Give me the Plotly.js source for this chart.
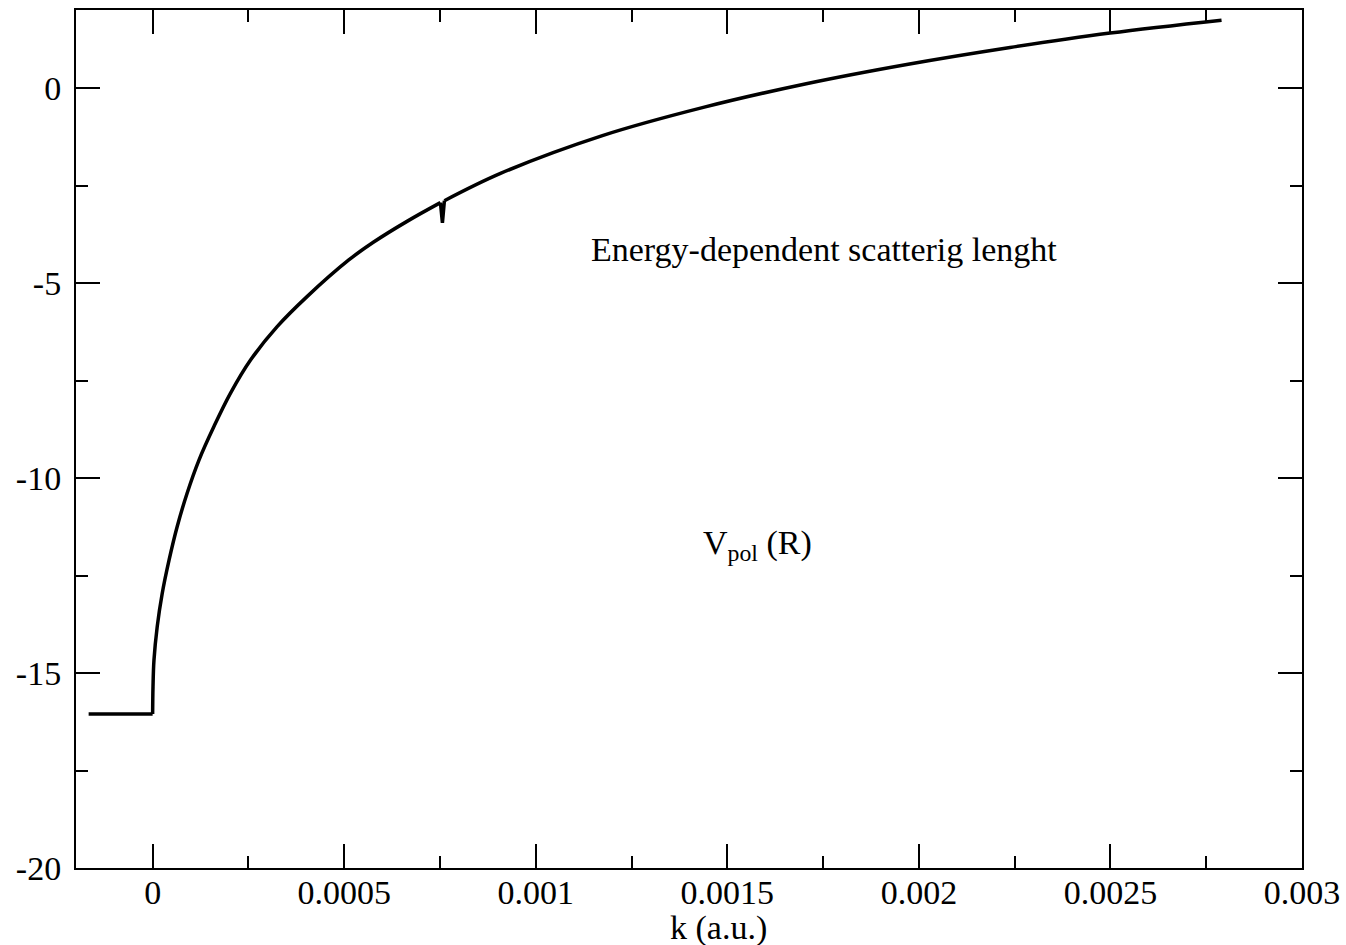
<!DOCTYPE html>
<html>
<head>
<meta charset="utf-8">
<script src="https://cdn.plot.ly/plotly-3.0.1.min.js"></script>
<style>
  html, body { margin: 0; padding: 0; background: #ffffff; }
  #chart { width: 1346px; height: 945px; }
</style>
</head>
<body>
<div id="chart"></div>
<script>
// Scattering length a(k) versus wave number k (atomic units)

// Constant branch for k < 0
const kFlat = [-0.000167, 0];
const aFlat = [-16.05, -16.05];

// Rising branch from k = 0 up to the small numerical glitch
const kRise = [0, 0.000001, 0.0000035, 0.000012, 0.000025, 0.000043, 0.000064, 0.00009,
               0.000121, 0.00016, 0.000203, 0.000256, 0.000325, 0.000403, 0.000512,
               0.000577, 0.000664, 0.0007512];
const aRise = [-16.05, -15.35, -14.67, -13.81, -12.96, -12.10, -11.25, -10.39,
               -9.54, -8.68, -7.83, -6.97, -6.12, -5.35, -4.41,
               -3.95, -3.42, -2.94];

// Glitch near k = 7.56e-4
const kGlitch = [0.0007512, 0.0007564, 0.0007616];
const aGlitch = [-2.94, -3.46, -2.89];

// Remaining branch up to the last computed point
const kTail = [0.0007616, 0.000908, 0.001174, 0.00144, 0.001706, 0.001972, 0.002238, 0.002499, 0.00279];
const aTail = [-2.89, -2.19, -1.22, -0.49, 0.11, 0.61, 1.04, 1.41, 1.74];

// Tick positions and labels
const xTickVals = [0, 0.0005, 0.001, 0.0015, 0.002, 0.0025, 0.003];
const xTickText = ["0", "0.0005", "0.001", "0.0015", "0.002", "0.0025", "0.003"];
const yTickVals = [-20, -15, -10, -5, 0];
const yTickText = ["-20", "-15", "-10", "-5", "0"];

const FONT = "Liberation Serif";
const lineStyle = { color: "#000000", width: 3.5 };

function seg(x, y, shape) {
  return {
    x: x, y: y, type: "scatter", mode: "lines",
    line: Object.assign({ shape: shape, smoothing: 1 }, lineStyle),
    hoverinfo: "x+y", showlegend: false
  };
}

const traces = [
  seg(kFlat, aFlat, "linear"),
  seg(kRise, aRise, "spline"),
  seg(kGlitch, aGlitch, "linear"),
  seg(kTail, aTail, "spline")
];

function axisBase() {
  return {
    showgrid: false, zeroline: false,
    showline: true, linecolor: "#000000", linewidth: 2,
    mirror: "ticks", ticks: "inside", ticklen: 24, tickwidth: 2, tickcolor: "#000000",
    tickfont: { family: FONT, size: 34, color: "#000000" }
  };
}

const layout = {
  width: 1346, height: 945,
  margin: { l: 76, r: 44, t: 10, b: 77 },
  paper_bgcolor: "#ffffff", plot_bgcolor: "#ffffff",
  font: { family: FONT, size: 34, color: "#000000" },
  xaxis: Object.assign(axisBase(), {
    range: [-0.0002, 0.003],
    tickmode: "array", tickvals: xTickVals, ticktext: xTickText,
    ticklabelstandoff: -7,
    minor: { dtick: 0.00025, tick0: 0, ticks: "inside", ticklen: 12, tickwidth: 2, tickcolor: "#000000", showgrid: false }
  }),
  yaxis: Object.assign(axisBase(), {
    range: [-20, 2],
    tickmode: "array", tickvals: yTickVals, ticktext: yTickText,
    ticklabelstandoff: 6,
    minor: { dtick: 2.5, tick0: 0, ticks: "inside", ticklen: 12, tickwidth: 2, tickcolor: "#000000", showgrid: false }
  }),
  annotations: [
    {
      text: "k (a.u.)", xref: "paper", yref: "paper",
      x: (718 - 76) / 1226, y: -0.07, xanchor: "center", yanchor: "middle",
      showarrow: false, font: { family: FONT, size: 34, color: "#000000" }
    },
    {
      text: "Energy-dependent scatterig lenght", xref: "x", yref: "y",
      x: 0.001753, y: -4.15, xanchor: "center", yanchor: "middle",
      showarrow: false, font: { family: FONT, size: 34, color: "#000000" }
    },
    {
      text: "V<sub>pol</sub> (R)", xref: "x", yref: "y",
      x: 0.00158, y: -11.72, xanchor: "center", yanchor: "middle",
      showarrow: false, font: { family: FONT, size: 34, color: "#000000" }
    }
  ]
};

Plotly.newPlot("chart", traces, layout, { displayModeBar: false, staticPlot: true });
</script>
</body>
</html>
